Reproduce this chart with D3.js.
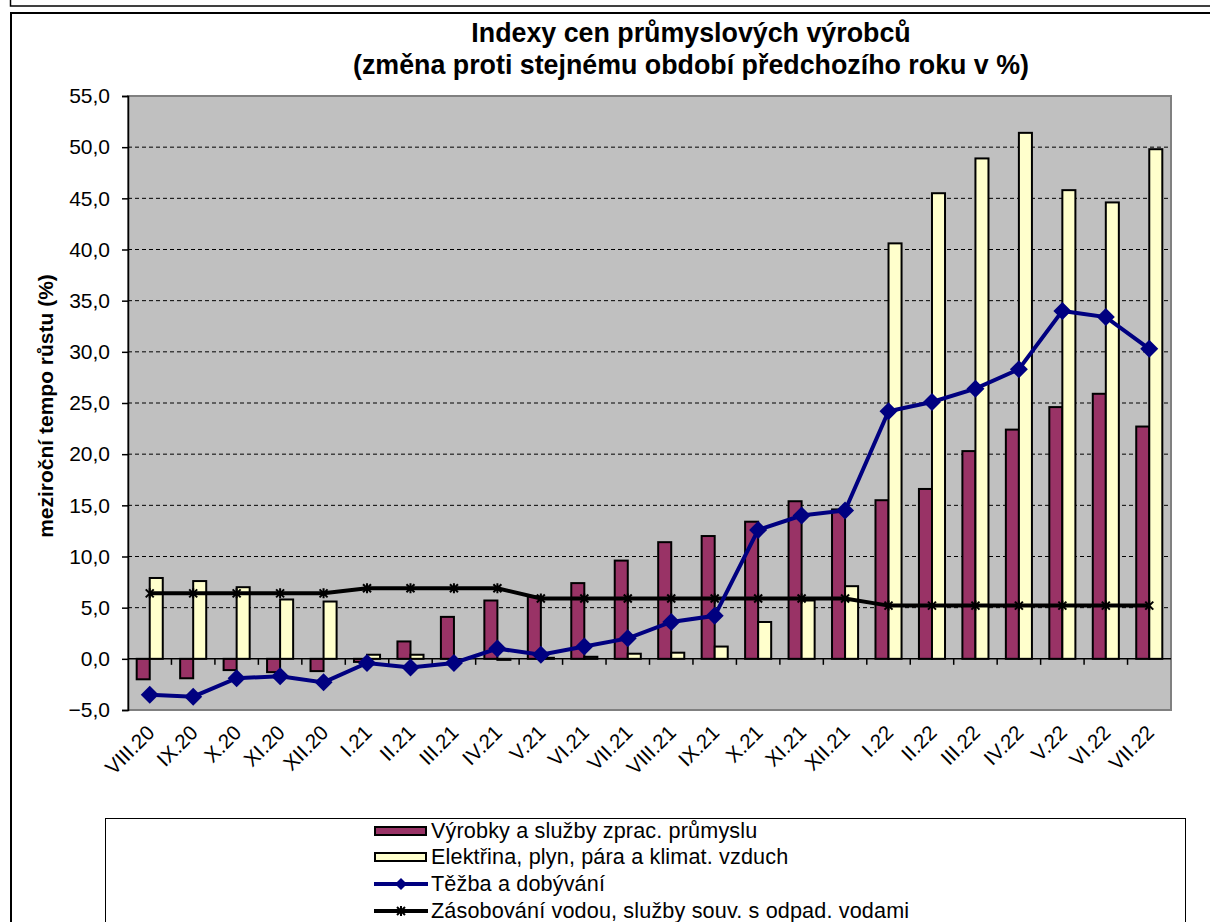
<!DOCTYPE html>
<html>
<head>
<meta charset="utf-8">
<script src="https://cdn.jsdelivr.net/npm/d3@7"></script>
<style>
  body { margin: 0; background: #fff; }
  text { font-family: "Liberation Sans", Arial, sans-serif; }
</style>
</head>
<body>
<div id="chart"></div>
<script>
const width = 1210;
const height = 922;

const months = ["VIII.20","IX.20","X.20","XI.20","XII.20","I.21","II.21","III.21","IV.21","V.21","VI.21","VII.21",
  "VIII.21","IX.21","X.21","XI.21","XII.21","I.22","II.22","III.22","IV.22","V.22","VI.22","VII.22"];

const vyrobky = [-2.0,-1.9,-1.1,-1.3,-1.2,-0.3,1.7,4.1,5.7,6.1,7.4,9.6,11.4,12.0,13.4,15.4,14.6,15.5,16.6,20.3,22.4,24.6,25.9,22.7];
const elektrina = [7.9,7.6,7.0,5.8,5.6,0.4,0.4,0.0,-0.1,0.1,0.2,0.5,0.6,1.2,3.6,5.7,7.1,40.6,45.5,48.9,51.4,45.8,44.6,49.8];
const tezba = [-3.5,-3.7,-1.9,-1.7,-2.3,-0.4,-0.85,-0.4,1.0,0.4,1.2,2.0,3.6,4.2,12.6,14.0,14.5,24.2,25.1,26.4,28.3,34.0,33.4,30.3];
const zasobovani = [6.4,6.4,6.4,6.4,6.4,6.9,6.9,6.9,6.9,5.9,5.9,5.9,5.9,5.9,5.9,5.9,5.9,5.2,5.2,5.2,5.2,5.2,5.2,5.2];

const yTicks = [-5,0,5,10,15,20,25,30,35,40,45,50,55];

const legendNames = [
  "Výrobky a služby zprac. průmyslu",
  "Elektřina, plyn, pára a klimat. vzduch",
  "Těžba a dobývání",
  "Zásobování vodou, služby souv. s odpad. vodami"
];

const plot = { left: 128, right: 1171, top: 96, bottom: 710 };

const svg = d3.select('#chart')
  .append('svg')
  .attr('width', width)
  .attr('height', height);

svg.append('rect').attr('width', width).attr('height', height).attr('fill', '#fff');

// frames around the sheet
svg.append('rect')
  .attr('x', 10.5).attr('y', -10)
  .attr('width', 1300).attr('height', 16)
  .attr('fill', 'none').attr('stroke', '#000').attr('stroke-width', 1.5);
svg.append('rect')
  .attr('x', 11).attr('y', 13)
  .attr('width', 1300).attr('height', 1000)
  .attr('fill', 'none').attr('stroke', '#000').attr('stroke-width', 2);

const x = d3.scaleBand()
  .domain(months)
  .range([plot.left, plot.right]);

const y = d3.scaleLinear()
  .domain([-5, 55])
  .range([plot.bottom, plot.top]);

const groupW = x.bandwidth() * 0.6;
const xs = d3.scaleBand()
  .domain(["vyrobky", "elektrina"])
  .range([-groupW / 2, groupW / 2]);

// plot area
svg.append('rect')
  .attr('x', plot.left).attr('y', plot.top)
  .attr('width', plot.right - plot.left).attr('height', plot.bottom - plot.top)
  .attr('fill', '#c0c0c0')
  .attr('stroke', '#808080').attr('stroke-width', 2);

// gridlines
svg.append('g')
  .selectAll('line')
  .data(yTicks.filter(d => d > 0 && d < 55))
  .join('line')
  .attr('x1', plot.left).attr('x2', plot.right)
  .attr('y1', d => y(d)).attr('y2', d => y(d))
  .attr('stroke', '#000').attr('stroke-width', 1)
  .attr('stroke-dasharray', '4,3');

// bars
const barSeries = [
  { key: "vyrobky", values: vyrobky, color: "#993366" },
  { key: "elektrina", values: elektrina, color: "#ffffcc" }
];

barSeries.forEach(s => {
  svg.append('g')
    .selectAll('rect')
    .data(s.values)
    .join('rect')
    .attr('x', (d, i) => x(months[i]) + x.bandwidth() / 2 + xs(s.key))
    .attr('width', xs.bandwidth())
    .attr('y', d => y(Math.max(0, d)))
    .attr('height', d => Math.abs(y(d) - y(0)))
    .attr('fill', s.color)
    .attr('stroke', '#000')
    .attr('stroke-width', 2);
});

// x axis at zero
const cx = (d, i) => x(months[i]) + x.bandwidth() / 2;

svg.append('line')
  .attr('x1', plot.left).attr('x2', plot.right)
  .attr('y1', y(0)).attr('y2', y(0))
  .attr('stroke', '#000').attr('stroke-width', 1.5);

svg.append('g')
  .selectAll('line')
  .data(months.slice(1))
  .join('line')
  .attr('x1', d => x(d)).attr('x2', d => x(d))
  .attr('y1', y(0)).attr('y2', y(0) + 6)
  .attr('stroke', '#000').attr('stroke-width', 1.5);

// lines
const lineFunction = d3.line()
  .x((d, i) => cx(d, i))
  .y(d => y(d));

svg.append('path')
  .attr('d', lineFunction(zasobovani))
  .attr('fill', 'none')
  .attr('stroke', '#000')
  .attr('stroke-width', 4);

svg.append('g')
  .selectAll('path')
  .data(zasobovani)
  .join('path')
  .attr('transform', (d, i) => `translate(${cx(d, i)},${y(d)})`)
  .attr('d', 'M-4,-4L4,4M-4,4L4,-4M0,-5L0,5')
  .attr('stroke', '#000')
  .attr('stroke-width', 2);

svg.append('path')
  .attr('d', lineFunction(tezba))
  .attr('fill', 'none')
  .attr('stroke', '#000080')
  .attr('stroke-width', 4);

svg.append('g')
  .selectAll('path')
  .data(tezba)
  .join('path')
  .attr('transform', (d, i) => `translate(${cx(d, i)},${y(d)})`)
  .attr('d', 'M0,-9L9,0L0,9L-9,0Z')
  .attr('fill', '#000080');

// y axis
const locale = d3.formatLocale({ decimal: ",", thousands: " ", grouping: [3], currency: ["", ""] });
const yAxis = d3.axisLeft(y)
  .tickValues(yTicks)
  .tickFormat(locale.format(".1f"))
  .tickSize(6)
  .tickPadding(12);

const yg = svg.append('g')
  .attr('transform', `translate(${plot.left},0)`)
  .call(yAxis);
yg.select('.domain').attr('stroke', '#000').attr('stroke-width', 1.5);
yg.selectAll('.tick line').attr('stroke', '#000').attr('stroke-width', 1.5);
yg.selectAll('.tick text')
  .attr('font-size', 21)
  .attr('fill', '#000')
  .style('font-family', '"Liberation Sans", Arial, sans-serif');

// x labels
svg.append('g')
  .selectAll('text')
  .data(months)
  .join('text')
  .attr('transform', d => `translate(${x(d) + x.bandwidth() / 2 + 6},${plot.bottom + 24}) rotate(-45)`)
  .attr('text-anchor', 'end')
  .attr('font-size', 20.5)
  .text(d => d);

// titles
svg.append('text')
  .attr('x', 691).attr('y', 42)
  .attr('text-anchor', 'middle')
  .attr('font-size', 26.8).attr('font-weight', 'bold')
  .text('Indexy cen průmyslových výrobců');
svg.append('text')
  .attr('x', 691).attr('y', 74)
  .attr('text-anchor', 'middle')
  .attr('font-size', 26.8).attr('font-weight', 'bold')
  .text('(změna proti stejnému období předchozího roku v %)');

svg.append('text')
  .attr('transform', 'translate(53,406) rotate(-90)')
  .attr('text-anchor', 'middle')
  .attr('font-size', 21).attr('font-weight', 'bold')
  .text('meziroční tempo růstu (%)');

// legend
svg.append('rect')
  .attr('x', 105.5).attr('y', 818.5)
  .attr('width', 1080).attr('height', 200)
  .attr('fill', '#fff')
  .attr('stroke', '#000').attr('stroke-width', 1);

const legendY = [831, 857, 884, 911];
const lg = svg.append('g');

legendNames.forEach((name, i) => {
  const ly = legendY[i];
  if (i < 2) {
    lg.append('rect')
      .attr('x', 375).attr('y', ly - 4)
      .attr('width', 51).attr('height', 8)
      .attr('fill', barSeries[i].color)
      .attr('stroke', '#000').attr('stroke-width', 2);
  } else if (i === 2) {
    lg.append('line')
      .attr('x1', 374).attr('x2', 428).attr('y1', ly).attr('y2', ly)
      .attr('stroke', '#000080').attr('stroke-width', 4);
    lg.append('path')
      .attr('transform', `translate(401,${ly})`)
      .attr('d', 'M0,-6L6,0L0,6L-6,0Z')
      .attr('fill', '#000080');
  } else {
    lg.append('line')
      .attr('x1', 374).attr('x2', 428).attr('y1', ly).attr('y2', ly)
      .attr('stroke', '#000').attr('stroke-width', 4);
    lg.append('path')
      .attr('transform', `translate(401,${ly})`)
      .attr('d', 'M-4,-4L4,4M-4,4L4,-4M0,-5L0,5')
      .attr('stroke', '#000').attr('stroke-width', 2);
  }
  lg.append('text')
    .attr('x', 431).attr('y', ly + 7)
    .attr('font-size', 21.6)
    .attr('letter-spacing', 0.15)
    .text(name);
});
</script>
</body>
</html>
